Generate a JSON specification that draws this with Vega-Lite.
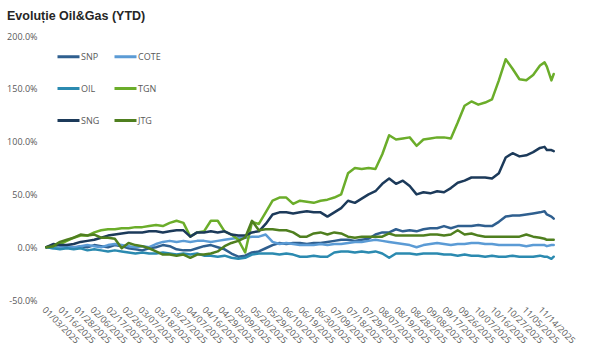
{
 "$schema": "https://vega.github.io/schema/vega-lite/v6.json",
 "autosize": {"type": "none"},
 "padding": {"left": 44, "top": 36, "right": 44, "bottom": 52},
 "width": 512,
 "height": 264,
 "background": "white",
 "title": {"text": "Evoluție Oil&Gas (YTD)", "anchor": "start", "frame": "group", "dx": -37, "offset": 0, "baseline": "alphabetic", "fontSize": 12.5, "font": "Liberation Sans", "fontWeight": "bold", "color": "#262626"},
 "data": {"values": [
  {"d":"01/03/2025","SNP":0,"COTE":0,"OIL":0,"TGN":0,"SNG":0,"JTG":0},
  {"d":"01/10/2025","SNP":1,"COTE":-1,"OIL":-1,"TGN":1,"SNG":3,"JTG":1},
  {"d":"01/15/2025","SNP":-1,"COTE":0,"OIL":-2,"TGN":3,"SNG":2,"JTG":5},
  {"d":"01/20/2025","SNP":0,"COTE":1,"OIL":-1,"TGN":6,"SNG":2,"JTG":7},
  {"d":"01/23/2025","SNP":-1,"COTE":0,"OIL":-2,"TGN":9,"SNG":3,"JTG":9},
  {"d":"01/29/2025","SNP":1,"COTE":1,"OIL":-1,"TGN":11,"SNG":5,"JTG":12},
  {"d":"02/03/2025","SNP":0,"COTE":2,"OIL":-3,"TGN":11,"SNG":6,"JTG":11},
  {"d":"02/06/2025","SNP":2,"COTE":1,"OIL":-2,"TGN":14,"SNG":7,"JTG":12},
  {"d":"02/11/2025","SNP":1,"COTE":0,"OIL":-3,"TGN":16,"SNG":9,"JTG":9},
  {"d":"02/14/2025","SNP":0,"COTE":2,"OIL":-4,"TGN":17,"SNG":11,"JTG":9},
  {"d":"02/19/2025","SNP":2,"COTE":3,"OIL":-3,"TGN":17,"SNG":12,"JTG":8},
  {"d":"02/24/2025","SNP":1,"COTE":2,"OIL":-4,"TGN":18,"SNG":13,"JTG":-1},
  {"d":"02/27/2025","SNP":-1,"COTE":1,"OIL":-5,"TGN":18,"SNG":14,"JTG":4},
  {"d":"03/04/2025","SNP":-2,"COTE":0,"OIL":-6,"TGN":19,"SNG":14,"JTG":2},
  {"d":"03/07/2025","SNP":-3,"COTE":1,"OIL":-5,"TGN":19,"SNG":14,"JTG":1},
  {"d":"03/12/2025","SNP":-1,"COTE":0,"OIL":-6,"TGN":20,"SNG":15,"JTG":-1},
  {"d":"03/17/2025","SNP":0,"COTE":3,"OIL":-6,"TGN":21,"SNG":15,"JTG":-4},
  {"d":"03/20/2025","SNP":2,"COTE":5,"OIL":-5,"TGN":20,"SNG":14,"JTG":-7},
  {"d":"03/25/2025","SNP":1,"COTE":6,"OIL":-6,"TGN":23,"SNG":15,"JTG":-7},
  {"d":"03/28/2025","SNP":-2,"COTE":5,"OIL":-7,"TGN":25,"SNG":16,"JTG":-8},
  {"d":"04/02/2025","SNP":-3,"COTE":6,"OIL":-6,"TGN":23,"SNG":16,"JTG":-7},
  {"d":"04/07/2025","SNP":-3,"COTE":5,"OIL":-7,"TGN":10,"SNG":10,"JTG":-10},
  {"d":"04/10/2025","SNP":-1,"COTE":6,"OIL":-6,"TGN":14,"SNG":14,"JTG":-7},
  {"d":"04/15/2025","SNP":1,"COTE":6,"OIL":-8,"TGN":15,"SNG":14,"JTG":-7},
  {"d":"04/22/2025","SNP":2,"COTE":5,"OIL":-8,"TGN":25,"SNG":15,"JTG":-6},
  {"d":"04/25/2025","SNP":0,"COTE":6,"OIL":-9,"TGN":25,"SNG":14,"JTG":-4},
  {"d":"04/30/2025","SNP":-2,"COTE":7,"OIL":-8,"TGN":15,"SNG":15,"JTG":1},
  {"d":"05/06/2025","SNP":-6,"COTE":8,"OIL":-10,"TGN":12,"SNG":12,"JTG":4},
  {"d":"05/09/2025","SNP":-9,"COTE":9,"OIL":-11,"TGN":7,"SNG":11,"JTG":6},
  {"d":"05/14/2025","SNP":-8,"COTE":9,"OIL":-10,"TGN":-5,"SNG":11,"JTG":9},
  {"d":"05/19/2025","SNP":-5,"COTE":10,"OIL":-7,"TGN":24,"SNG":14,"JTG":25},
  {"d":"05/22/2025","SNP":-4,"COTE":10,"OIL":-6,"TGN":22,"SNG":15,"JTG":16},
  {"d":"05/27/2025","SNP":-1,"COTE":12,"OIL":-6,"TGN":33,"SNG":22,"JTG":17},
  {"d":"05/30/2025","SNP":2,"COTE":5,"OIL":-6,"TGN":44,"SNG":31,"JTG":17},
  {"d":"06/04/2025","SNP":4,"COTE":3,"OIL":-7,"TGN":47,"SNG":33,"JTG":16},
  {"d":"06/10/2025","SNP":3,"COTE":4,"OIL":-6,"TGN":47,"SNG":33,"JTG":16},
  {"d":"06/13/2025","SNP":4,"COTE":3,"OIL":-7,"TGN":41,"SNG":32,"JTG":14},
  {"d":"06/18/2025","SNP":4,"COTE":2,"OIL":-9,"TGN":44,"SNG":33,"JTG":10},
  {"d":"06/23/2025","SNP":3,"COTE":2,"OIL":-9,"TGN":43,"SNG":34,"JTG":10},
  {"d":"06/26/2025","SNP":4,"COTE":2,"OIL":-8,"TGN":42,"SNG":33,"JTG":13},
  {"d":"07/01/2025","SNP":4,"COTE":3,"OIL":-9,"TGN":44,"SNG":33,"JTG":14},
  {"d":"07/04/2025","SNP":5,"COTE":2,"OIL":-9,"TGN":45,"SNG":29,"JTG":12},
  {"d":"07/09/2025","SNP":6,"COTE":3,"OIL":-5,"TGN":47,"SNG":33,"JTG":14},
  {"d":"07/14/2025","SNP":7,"COTE":3,"OIL":-4,"TGN":50,"SNG":37,"JTG":13},
  {"d":"07/17/2025","SNP":7,"COTE":4,"OIL":-4,"TGN":70,"SNG":44,"JTG":10},
  {"d":"07/22/2025","SNP":6,"COTE":5,"OIL":-5,"TGN":75,"SNG":42,"JTG":9},
  {"d":"07/25/2025","SNP":7,"COTE":5,"OIL":-4,"TGN":74,"SNG":46,"JTG":10},
  {"d":"07/30/2025","SNP":8,"COTE":6,"OIL":-5,"TGN":75,"SNG":50,"JTG":10},
  {"d":"08/04/2025","SNP":12,"COTE":7,"OIL":-4,"TGN":74,"SNG":53,"JTG":10},
  {"d":"08/07/2025","SNP":14,"COTE":6,"OIL":-6,"TGN":88,"SNG":60,"JTG":10},
  {"d":"08/12/2025","SNP":14,"COTE":5,"OIL":-10,"TGN":106,"SNG":65,"JTG":13},
  {"d":"08/18/2025","SNP":17,"COTE":4,"OIL":-6,"TGN":102,"SNG":60,"JTG":11},
  {"d":"08/21/2025","SNP":15,"COTE":3,"OIL":-6,"TGN":103,"SNG":63,"JTG":11},
  {"d":"08/26/2025","SNP":16,"COTE":2,"OIL":-6,"TGN":104,"SNG":58,"JTG":11},
  {"d":"08/29/2025","SNP":15,"COTE":0,"OIL":-7,"TGN":96,"SNG":50,"JTG":11},
  {"d":"09/03/2025","SNP":17,"COTE":2,"OIL":-6,"TGN":102,"SNG":52,"JTG":11},
  {"d":"09/08/2025","SNP":18,"COTE":3,"OIL":-6,"TGN":103,"SNG":51,"JTG":12},
  {"d":"09/11/2025","SNP":18,"COTE":4,"OIL":-6,"TGN":104,"SNG":53,"JTG":12},
  {"d":"09/16/2025","SNP":20,"COTE":3,"OIL":-7,"TGN":104,"SNG":52,"JTG":11},
  {"d":"09/19/2025","SNP":18,"COTE":2,"OIL":-7,"TGN":103,"SNG":56,"JTG":12},
  {"d":"09/24/2025","SNP":20,"COTE":3,"OIL":-8,"TGN":118,"SNG":61,"JTG":16},
  {"d":"09/29/2025","SNP":20,"COTE":3,"OIL":-7,"TGN":134,"SNG":63,"JTG":12},
  {"d":"10/02/2025","SNP":20,"COTE":4,"OIL":-8,"TGN":138,"SNG":66,"JTG":13},
  {"d":"10/07/2025","SNP":21,"COTE":4,"OIL":-8,"TGN":135,"SNG":66,"JTG":11},
  {"d":"10/10/2025","SNP":20,"COTE":3,"OIL":-9,"TGN":137,"SNG":66,"JTG":10},
  {"d":"10/15/2025","SNP":20,"COTE":3,"OIL":-8,"TGN":140,"SNG":65,"JTG":10},
  {"d":"10/20/2025","SNP":24,"COTE":2,"OIL":-9,"TGN":158,"SNG":70,"JTG":10},
  {"d":"10/23/2025","SNP":29,"COTE":2,"OIL":-9,"TGN":178,"SNG":85,"JTG":10},
  {"d":"10/28/2025","SNP":30,"COTE":2,"OIL":-8,"TGN":169,"SNG":89,"JTG":10},
  {"d":"10/31/2025","SNP":30,"COTE":2,"OIL":-9,"TGN":159,"SNG":86,"JTG":10},
  {"d":"11/05/2025","SNP":31,"COTE":1,"OIL":-9,"TGN":158,"SNG":87,"JTG":12},
  {"d":"11/10/2025","SNP":32,"COTE":2,"OIL":-9,"TGN":163,"SNG":90,"JTG":10},
  {"d":"11/13/2025","SNP":33,"COTE":2,"OIL":-8,"TGN":172,"SNG":94,"JTG":9},
  {"d":"11/17/2025","SNP":34,"COTE":2,"OIL":-9,"TGN":175,"SNG":95,"JTG":8},
  {"d":"11/18/2025","SNP":31,"COTE":1,"OIL":-9,"TGN":171,"SNG":92,"JTG":7},
  {"d":"11/20/2025","SNP":29,"COTE":2,"OIL":-11,"TGN":158,"SNG":92,"JTG":7},
  {"d":"11/21/2025","SNP":27,"COTE":2,"OIL":-9,"TGN":164,"SNG":91,"JTG":7}
 ]},
 "transform": [{"fold": ["SNP", "COTE", "OIL", "TGN", "SNG", "JTG"], "as": ["s", "v"]}],
 "mark": {"type": "line", "strokeWidth": 2.5, "strokeJoin": "round", "strokeCap": "round"},
 "encoding": {
  "x": {"field": "d", "type": "ordinal",
   "scale": {"type": "point", "padding": 1, "domain": ["01/03/2025","01/08/2025","01/09/2025","01/10/2025","01/13/2025","01/14/2025","01/15/2025","01/16/2025","01/17/2025","01/20/2025","01/21/2025","01/22/2025","01/23/2025","01/27/2025","01/28/2025","01/29/2025","01/30/2025","01/31/2025","02/03/2025","02/04/2025","02/05/2025","02/06/2025","02/07/2025","02/10/2025","02/11/2025","02/12/2025","02/13/2025","02/14/2025","02/17/2025","02/18/2025","02/19/2025","02/20/2025","02/21/2025","02/24/2025","02/25/2025","02/26/2025","02/27/2025","02/28/2025","03/03/2025","03/04/2025","03/05/2025","03/06/2025","03/07/2025","03/10/2025","03/11/2025","03/12/2025","03/13/2025","03/14/2025","03/17/2025","03/18/2025","03/19/2025","03/20/2025","03/21/2025","03/24/2025","03/25/2025","03/26/2025","03/27/2025","03/28/2025","03/31/2025","04/01/2025","04/02/2025","04/03/2025","04/04/2025","04/07/2025","04/08/2025","04/09/2025","04/10/2025","04/11/2025","04/14/2025","04/15/2025","04/16/2025","04/17/2025","04/22/2025","04/23/2025","04/24/2025","04/25/2025","04/28/2025","04/29/2025","04/30/2025","05/02/2025","05/05/2025","05/06/2025","05/07/2025","05/08/2025","05/09/2025","05/12/2025","05/13/2025","05/14/2025","05/15/2025","05/16/2025","05/19/2025","05/20/2025","05/21/2025","05/22/2025","05/23/2025","05/26/2025","05/27/2025","05/28/2025","05/29/2025","05/30/2025","06/02/2025","06/03/2025","06/04/2025","06/05/2025","06/06/2025","06/10/2025","06/11/2025","06/12/2025","06/13/2025","06/16/2025","06/17/2025","06/18/2025","06/19/2025","06/20/2025","06/23/2025","06/24/2025","06/25/2025","06/26/2025","06/27/2025","06/30/2025","07/01/2025","07/02/2025","07/03/2025","07/04/2025","07/07/2025","07/08/2025","07/09/2025","07/10/2025","07/11/2025","07/14/2025","07/15/2025","07/16/2025","07/17/2025","07/18/2025","07/21/2025","07/22/2025","07/23/2025","07/24/2025","07/25/2025","07/28/2025","07/29/2025","07/30/2025","07/31/2025","08/01/2025","08/04/2025","08/05/2025","08/06/2025","08/07/2025","08/08/2025","08/11/2025","08/12/2025","08/13/2025","08/14/2025","08/18/2025","08/19/2025","08/20/2025","08/21/2025","08/22/2025","08/25/2025","08/26/2025","08/27/2025","08/28/2025","08/29/2025","09/01/2025","09/02/2025","09/03/2025","09/04/2025","09/05/2025","09/08/2025","09/09/2025","09/10/2025","09/11/2025","09/12/2025","09/15/2025","09/16/2025","09/17/2025","09/18/2025","09/19/2025","09/22/2025","09/23/2025","09/24/2025","09/25/2025","09/26/2025","09/29/2025","09/30/2025","10/01/2025","10/02/2025","10/03/2025","10/06/2025","10/07/2025","10/08/2025","10/09/2025","10/10/2025","10/13/2025","10/14/2025","10/15/2025","10/16/2025","10/17/2025","10/20/2025","10/21/2025","10/22/2025","10/23/2025","10/24/2025","10/27/2025","10/28/2025","10/29/2025","10/30/2025","10/31/2025","11/03/2025","11/04/2025","11/05/2025","11/06/2025","11/07/2025","11/10/2025","11/11/2025","11/12/2025","11/13/2025","11/14/2025","11/17/2025","11/18/2025","11/19/2025","11/20/2025","11/21/2025"]},
   "axis": {"values": ["01/03/2025","01/16/2025","01/28/2025","02/06/2025","02/17/2025","02/26/2025","03/07/2025","03/18/2025","03/27/2025","04/07/2025","04/16/2025","04/29/2025","05/09/2025","05/20/2025","05/29/2025","06/10/2025","06/19/2025","06/30/2025","07/09/2025","07/18/2025","07/29/2025","08/07/2025","08/19/2025","08/28/2025","09/08/2025","09/17/2025","09/26/2025","10/07/2025","10/16/2025","10/27/2025","11/05/2025","11/14/2025"],
    "title": null, "labelAngle": 45, "labelAlign": "left", "labelBaseline": "top", "ticks": false, "domain": false, "grid": false,
    "labelFontSize": 9, "labelFont": "Open Sans", "labelColor": "#595959", "labelPadding": 5, "labelDx": 4, "labelOverlap": false, "labelBound": false}},
  "y": {"field": "v", "type": "quantitative",
   "scale": {"domain": [-50, 200], "nice": false, "zero": false},
   "axis": {"values": [-50, 0, 50, 100, 150, 200], "title": null, "ticks": false, "domain": false, "grid": false,
    "labelExpr": "replace(format(datum.value, '.1f'), '\u2212', '-') + '%'",
    "labelFontSize": 9, "labelFont": "Open Sans", "labelColor": "#595959", "labelPadding": 7}},
  "color": {"field": "s", "type": "nominal",
   "scale": {"domain": ["SNP", "COTE", "OIL", "TGN", "SNG", "JTG"], "range": ["#2F5F8F", "#5B9BD5", "#2B8AB0", "#6BAD2A", "#1C3A5A", "#4F7F1F"]},
   "legend": {"orient": "none", "legendX": 12, "legendY": 8, "columns": 2, "direction": "horizontal", "symbolType": "stroke", "symbolSize": 484, "symbolStrokeWidth": 3, "labelFontSize": 9, "labelFont": "Open Sans", "labelColor": "#595959", "columnPadding": 8, "rowPadding": 13, "labelOffset": 0, "title": null}}
 },
 "config": {"view": {"stroke": null}}
}
